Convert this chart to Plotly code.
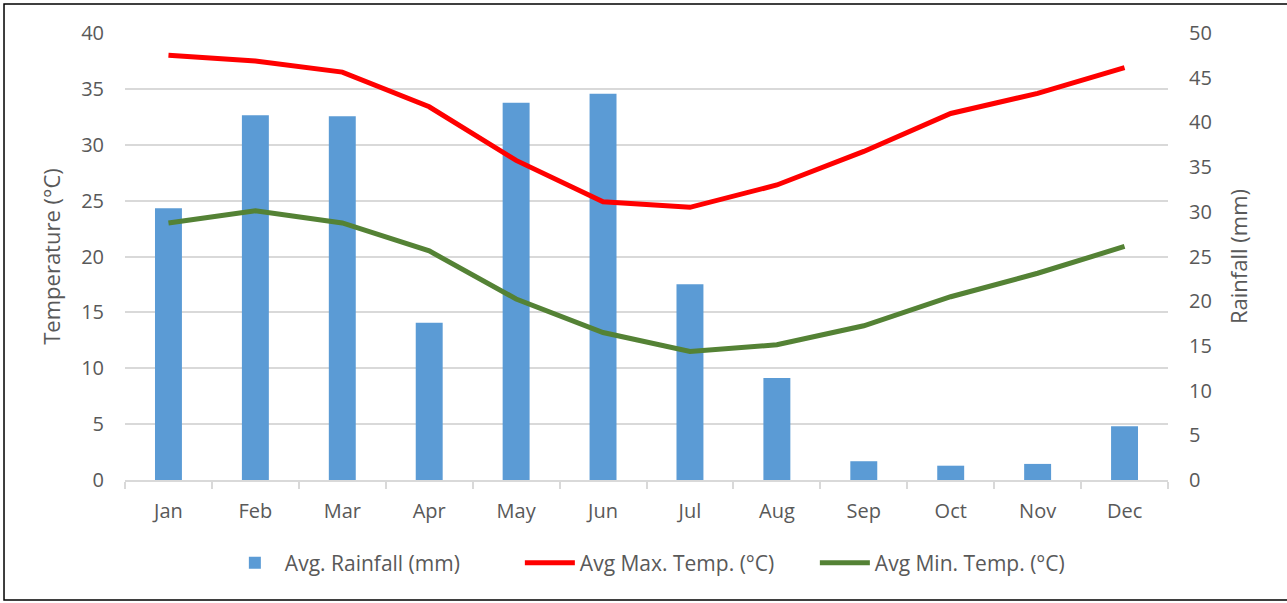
import plotly.graph_objects as go

months = ["Jan", "Feb", "Mar", "Apr", "May", "Jun", "Jul", "Aug", "Sep", "Oct", "Nov", "Dec"]
rainfall_mm = [30.4, 40.8, 40.7, 17.6, 42.2, 43.2, 21.9, 11.4, 2.1, 1.6, 1.8, 6.0]
max_temp_c = [38.0, 37.5, 36.5, 33.4, 28.6, 24.9, 24.4, 26.4, 29.4, 32.8, 34.6, 36.9]
min_temp_c = [23.0, 24.1, 23.0, 20.5, 16.2, 13.2, 11.5, 12.1, 13.8, 16.4, 18.5, 20.9]

FONT = "Open Sans"
TXT = "#595959"

fig = go.Figure()
fig.add_trace(go.Bar(
    x=months, y=rainfall_mm, name="Avg. Rainfall (mm)",
    marker=dict(color="#5B9BD5", line=dict(width=0)),
    yaxis="y",
))
fig.add_trace(go.Scatter(
    x=months, y=max_temp_c, name="Avg Max. Temp. (°C)", mode="lines",
    line=dict(color="#FF0000", width=5), yaxis="y2",
))
fig.add_trace(go.Scatter(
    x=months, y=min_temp_c, name="Avg Min. Temp. (°C)", mode="lines",
    line=dict(color="#548235", width=5), yaxis="y2",
))

fig.update_layout(
    width=1287, height=603,
    margin=dict(l=125, r=119, t=33, b=123),
    paper_bgcolor="white", plot_bgcolor="white",
    font=dict(family=FONT, size=20, color=TXT),
    bargap=0.69,
    showlegend=True,
    legend=dict(orientation="h", x=0.52, xanchor="center", y=-0.186, yanchor="middle",
                font=dict(size=21, color=TXT), itemwidth=50, traceorder="normal",
                itemsizing="constant", entrywidth=230, entrywidthmode="pixels"),
    xaxis=dict(
        type="category", showgrid=False, showline=True, linecolor="#D9D9D9", linewidth=1.5,
        ticks="outside", tickson="boundaries", ticklen=7, tickcolor="#D9D9D9", tickwidth=1.5,
        tickfont=dict(size=20, color=TXT), ticklabelstandoff=12, automargin=False,
    ),
    yaxis=dict(
        side="right", range=[0, 50], dtick=5, showgrid=False, showline=False, zeroline=False,
        tickfont=dict(size=20, color=TXT), ticklabelstandoff=20, automargin=False,
        title=dict(text="Rainfall (mm)", font=dict(size=22, color=TXT), standoff=20),
    ),
    yaxis2=dict(
        side="left", overlaying="y", range=[0, 40], dtick=5, showgrid=True,
        gridcolor="#D9D9D9", gridwidth=1.5, showline=False, zeroline=False,
        tickfont=dict(size=20, color=TXT), ticklabelstandoff=20, automargin=False,
        title=dict(text="Temperature (°C)", font=dict(size=22, color=TXT), standoff=14),
    ),
    shapes=[dict(type="rect", xref="paper", yref="paper",
                 x0=-0.116, x1=1.12, y0=-0.2685, y1=1.065,
                 line=dict(color="#000000", width=1.5), layer="below")],
)

fig.write_html("out.html", config={"displayModeBar": False},
               post_script="document.body.style.margin='0';")
